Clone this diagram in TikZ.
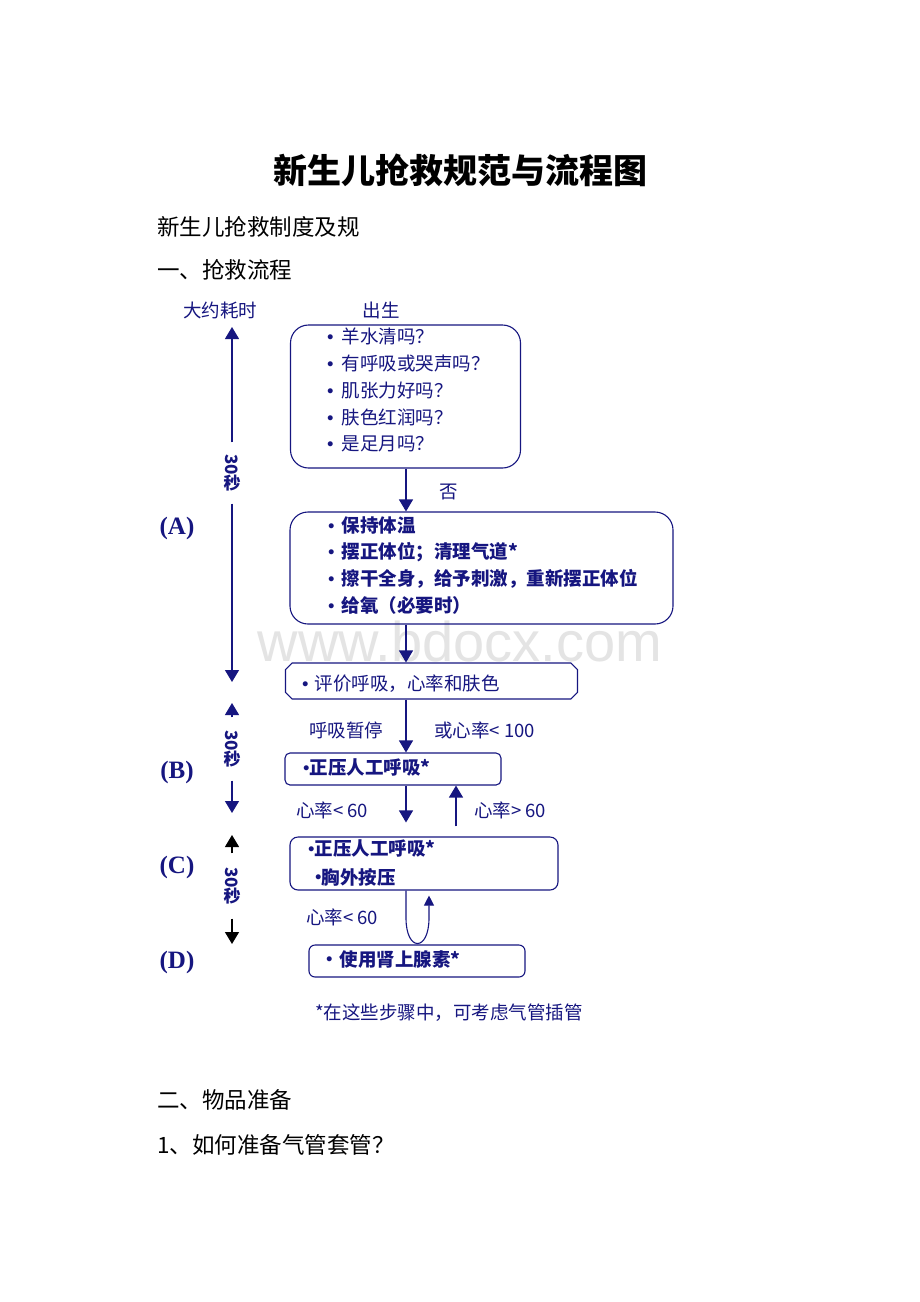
\documentclass[tikz,border=0pt]{standalone}
\usepackage{fontspec}
\usepackage{graphicx}
\setmainfont{Noto Sans CJK SC}
\newfontfamily\labelserif{Liberation Serif}
\newfontfamily\webfont{Liberation Sans}
\usepackage{tikz}
\usetikzlibrary{arrows.meta,shapes.misc,positioning}

\definecolor{flownavy}{RGB}{22,22,128}
\definecolor{markgray}{RGB}{228,228,228}

\newcommand\diagfont{\fontsize{18.5}{20}\selectfont}
\newcommand\dotmark{\raisebox{0.17em}{\scalebox{0.75}{$\bullet$}}}
\newcommand\secmark{\rotatebox{-90}{30}\\[-1pt]秒}

\begin{document}
\begin{tikzpicture}[x=1pt, y=-1pt,
	heading/.style={font=\fontsize{34}{36}\selectfont\bfseries},
	bodytext/.style={anchor=west, inner sep=0pt, font=\fontsize{22.5}{24}\selectfont},
	stage/.style={draw=flownavy, line width=1.1pt},
	item/.style={anchor=west, inner sep=0pt, text=flownavy, font=\diagfont},
	bolditem/.style={item, font=\diagfont\bfseries},
	steplabel/.style={text=flownavy, font=\labelserif\fontsize{25}{25}\selectfont\bfseries},
	secnode/.style={text=flownavy, align=center, inner sep=0pt, font=\fontsize{17}{17}\selectfont\bfseries},
	flow/.style={draw=flownavy, line width=1.2pt, -{Triangle[width=14pt,length=12pt]}},
	timeflow/.style={flow},
	retry/.style={draw=flownavy, line width=1.1pt, -{Triangle[width=10pt,length=10pt]}}]
	\useasboundingbox[fill=white] (0,0) rectangle (920,1302);

	%headings
	\node[heading] (title) at (460,170) {新生儿抢救规范与流程图};
	\node[bodytext] (intro) at (157,227) {新生儿抢救制度及规};
	\node[bodytext] (part1) at (157,270) {一、抢救流程};
	\node[bodytext] (part2) at (157,1100) {二、物品准备};
	\node[bodytext] (q1tube) at (157,1145) {1、如何准备气管套管？};

	%watermark
	\node[text=markgray, inner sep=0pt, font=\webfont\fontsize{56}{56}\selectfont] (mark) at (460,641) {www.bdocx.com};

	%time column
	\node[item, anchor=center] (timehead) at (220,310) {大约耗时};
	\node[item, anchor=center] (birth) at (381,310) {出生};
	\node[secnode, inner ysep=12pt] (sec1) at (232,473) {\secmark};
	\coordinate (sec1top) at (232,327);
	\coordinate (sec1bot) at (232,682);
	\node[secnode, inner ysep=13pt] (sec2) at (232,749) {\secmark};
	\coordinate (sec2top) at (232,703);
	\coordinate (sec2bot) at (232,813);
	\node[secnode, inner ysep=14pt] (sec3) at (232,886) {\secmark};
	\coordinate (sec3top) at (232,835);
	\coordinate (sec3bot) at (232,944);

	\node[steplabel] (stepA) at (177,528) {(A)};
	\node[steplabel] (stepB) at (177,772) {(B)};
	\node[steplabel] (stepC) at (177,867) {(C)};
	\node[steplabel] (stepD) at (177,962) {(D)};

	%boxes
	\node[stage, rounded corners=18pt, minimum width=230pt, minimum height=143pt] (check) at (405.5,396.5) {};
	\foreach \q [count=\i] in {羊水清吗？, 有呼吸或哭声吗？, 肌张力好吗？, 肤色红润吗？, 是足月吗？}
		\node[item] (ask\i) at (327,310+26.8*\i) {\dotmark\hspace{8pt}\q};

	\node[stage, rounded corners=18pt, minimum width=383pt, minimum height=112pt] (care) at (481.5,568) {};
	\foreach \q [count=\i] in {保持体温, 摆正体位；清理气道*, 擦干全身，给予刺激，重新摆正体位, 给氧（必要时）}
		\node[bolditem] (act\i) at (328,498.5+26.8*\i) {\dotmark\hspace{7pt}\q};

	\node[stage, chamfered rectangle, chamfered rectangle xsep=7pt, chamfered rectangle ysep=10pt,
		minimum width=292pt, minimum height=36pt] (eval) at (431.5,681) {};
	\node[item] (evaltext) at (302,684) {\dotmark\hspace{6pt}评价呼吸，心率和肤色};

	\node[stage, rounded corners=5pt, minimum width=216pt, minimum height=32pt] (ppv) at (393,769) {};
	\node[bolditem] (ppvtext) at (303,768) {\dotmark 正压人工呼吸*};

	\node[stage, rounded corners=8pt, minimum width=268pt, minimum height=53pt] (cpr) at (424,863.5) {};
	\node[bolditem] (cprtext1) at (308,849) {\dotmark 正压人工呼吸*};
	\node[bolditem] (cprtext2) at (315,877) {\dotmark 胸外按压};

	\node[stage, rounded corners=6pt, minimum width=216pt, minimum height=32pt] (drug) at (417,961) {};
	\node[bolditem] (drugtext) at (326,959) {\dotmark\hspace{7pt}使用肾上腺素*};

	\node[item] (note) at (315,1013) {*在这些步骤中，可考虑气管插管};

	%link labels
	\node[item, anchor=center] (nolabel) at (449,492) {否};
	\node[item] (apnea) at (309,730) {呼吸暂停};
	\node[item] (hr100) at (434,730) {或心率< 100};
	\node[item] (hrlow1) at (296,810) {心率< 60};
	\node[item] (hrhigh) at (474,810) {心率> 60};
	\node[item] (hrlow2) at (306,917) {心率< 60};

	\coordinate (upcol) at (456,800);
	\coordinate (loopL) at (406,918);
	\coordinate (loopR) at (429,918);

	%links
	\draw[timeflow] (sec1) -- (sec1top);
	\draw[timeflow] (sec1) -- (sec1bot);
	\draw[timeflow] (sec2) -- (sec2top);
	\draw[timeflow] (sec2) -- (sec2bot);
	\draw[timeflow, draw=black] (sec3) -- (sec3top);
	\draw[timeflow, draw=black] (sec3) -- (sec3bot);

	\draw[flow] (check.south -| loopL) -- (care.north -| loopL);
	\draw[flow] (care.south -| loopL) -- (eval.north -| loopL);
	\draw[flow] (eval.south -| loopL) -- (ppv.north -| loopL);
	\draw[flow, shorten >=14pt] (ppv.south -| loopL) -- (cpr.north -| loopL);
	\draw[flow, shorten <=10pt] (cpr.north -| upcol) -- (ppv.south -| upcol);
	\draw[retry, shorten >=5pt] (cpr.south -| loopL) -- (loopL) .. controls +(0,34) and +(0,34) .. (loopR) -- (cpr.south -| loopR);
\end{tikzpicture}
\end{document}
